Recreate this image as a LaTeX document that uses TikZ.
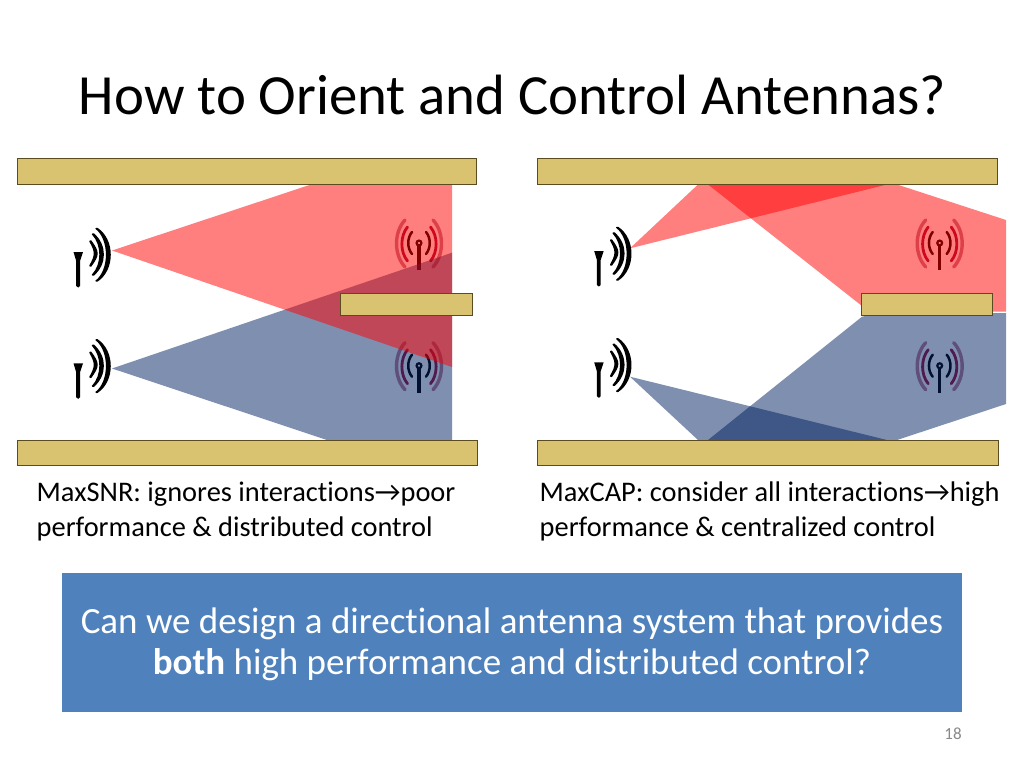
\documentclass[tikz,border=0pt]{standalone}
\usepackage{fontspec}
\setmainfont{Carlito}[Ligatures=CommonOff]
\definecolor{barfill}{RGB}{217,195,112}
\definecolor{barline}{RGB}{90,76,30}
\definecolor{beamred}{RGB}{255,0,0}
\definecolor{beamblue}{RGB}{0,32,96}
\definecolor{boxblue}{RGB}{79,129,189}
\definecolor{pagegray}{RGB}{137,137,137}
\definecolor{midarc}{RGB}{160,20,60}
\definecolor{outarc}{RGB}{190,130,150}
\tikzset{
  barbox/.style={fill=barfill,draw=barline,line width=1pt},
  redbeam/.style={fill=beamred,fill opacity=.5},
  bluebeam/.style={fill=beamblue,fill opacity=.5},
  rxarc/.style={line width=2.5pt,line cap=round,draw=black},
  rxmid/.style={line width=2.8pt,line cap=round,draw=midarc},
  rxouter/.style={line width=3.4pt,line cap=round,draw=outarc}
}
% crescent, right-bulging: x-end, y-top, y-bottom, tip control (outer), tip control (inner)
\newcommand{\crescent}[5]{\fill[black,rounded corners=.6pt] (#1,#2) .. controls (#4,#2+12) and (#4,#3-12) .. (#1,#3) -- (#1-2,#3-1) .. controls (#5,#3-12) and (#5,#2+12) .. (#1-2,#2+1) -- cycle;}
\newcommand{\txant}[2]{\begin{scope}[shift={(#1,#2)}]
  \fill[black] (73.5,252) -- (83,252) -- (80,261) -- (80,286) -- (78.2,287.5) -- (76.2,286) -- (76.2,261) -- cycle;
  \crescent{91}{240}{267}{99.8}{95.2}
  \crescent{93.5}{233}{276}{107.2}{101.8}
  \crescent{97}{227.5}{282}{115.2}{109.4}
\end{scope}}
\newcommand{\rxant}[2]{\begin{scope}[shift={(#1,#2)}]
  \draw[black,line width=2.2pt] (419,243) circle (2.4);
  \fill[black] (417.4,245) rectangle (420.6,270);
  \draw[rxarc] (412,232) .. controls (407,238) and (407,248) .. (412,254);
  \draw[rxarc] (426,232) .. controls (431,238) and (431,248) .. (426,254);
  \draw[rxouter] (405,220) .. controls (393.7,232) and (393.7,255) .. (405,267);
  \draw[rxouter] (433,220) .. controls (444.3,232) and (444.3,255) .. (433,267);
  \draw[rxmid] (407.5,227) .. controls (400,236) and (400,252) .. (407.5,261);
  \draw[rxmid] (430.5,227) .. controls (438,236) and (438,252) .. (430.5,261);
\end{scope}}
\begin{document}
\begin{tikzpicture}[x=1pt,y=-1pt]
\useasboundingbox (0,0) rectangle (1024,768);
\fill[white] (0,0) rectangle (1024,768);

\node[anchor=base,font=\fontsize{56.8}{66}\selectfont,inner sep=0] (title) at (512.5,114) {How to Orient and Control Antennas?};

% left panel
\txant{0}{0}
\txant{0}{111.3}
\rxant{0}{0}
\rxant{0}{122.7}
\fill[bluebeam] (112,368.5) -- (452,252.7) -- (452,440) -- (327,440) -- cycle;
\fill[redbeam] (112,250.5) -- (311,184.5) -- (452,184.5) -- (452,367) -- cycle;
\draw[barbox] (17.5,158.5) rectangle (476.5,184.5);
\draw[barbox] (17.5,440.5) rectangle (477.5,465.5);
\draw[barbox] (340.5,293.5) rectangle (472.5,315.5);

% right panel
\txant{520.7}{-1}
\txant{520.7}{110.3}
\rxant{520.7}{0}
\rxant{520.7}{122.7}
\fill[redbeam] (630,248.3) -- (698,184.5) -- (887,184.5) -- cycle;
\fill[redbeam] (708,184.5) -- (897,184.5) -- (1006,220) -- (1006,311.7) -- (880,311.7) -- (862,306) -- cycle;
\fill[bluebeam] (630,376.7) -- (698,440) -- (887,440) -- cycle;
\fill[bluebeam] (708,440) -- (897,440) -- (1006,404) -- (1006,313) -- (880,313) -- (862,316.7) -- cycle;
\draw[barbox] (537.5,158.5) rectangle (997.5,184.5);
\draw[barbox] (537.5,440.5) rectangle (998.5,465.5);
\draw[barbox] (861.5,293.5) rectangle (992.5,315.5);

% captions
\node[anchor=base west,inner sep=0,align=left,font=\fontsize{28.4}{34.4}\selectfont] (capL) at (36.5,536) {MaxSNR: ignores interactions→poor\\performance \& distributed control};
\node[anchor=base west,inner sep=0,align=left,font=\fontsize{28.4}{34.4}\selectfont] (capR) at (539.5,536) {MaxCAP: consider all interactions→high\\performance \& centralized control};

% question box
\node[fill=boxblue,minimum width=900pt,minimum height=139pt,inner sep=0,anchor=north west] (ask) at (62,573) {};
\node[anchor=center,inner sep=0,text=white,align=center,font=\fontsize{37}{41}\selectfont] (asktext) at (512,644) {Can we design a directional antenna system that provides\\\textbf{both} high performance and distributed control?};

\node[anchor=base,inner sep=0,text=pagegray,font=\fontsize{17}{20}\selectfont] (page) at (953,739) {18};
\end{tikzpicture}
\end{document}
